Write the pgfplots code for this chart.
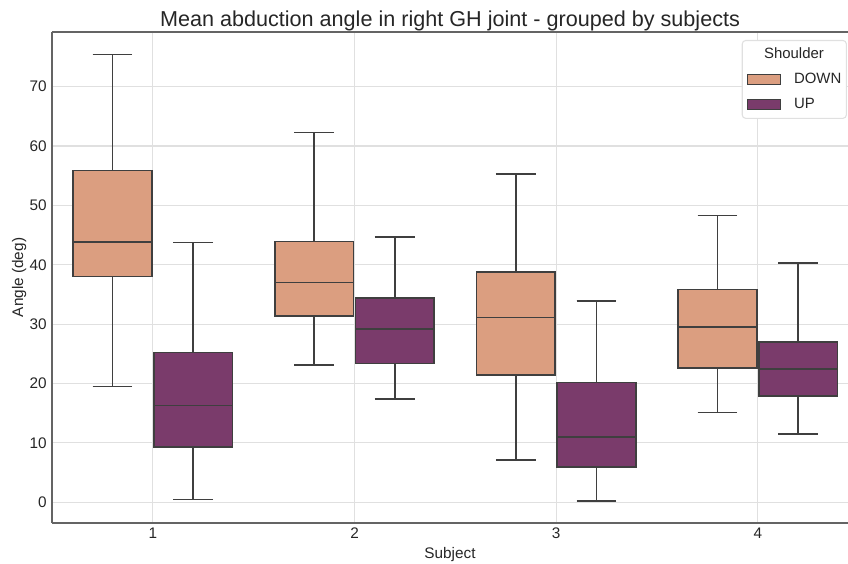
\documentclass[border=0pt]{standalone}
\usepackage{fontspec}
\setmainfont{Liberation Sans}
\usepackage{pgfplots}
\pgfplotsset{compat=1.18}
\usepgfplotslibrary{statistics}
\definecolor{downc}{RGB}{219,158,128}
\definecolor{upc}{RGB}{122,59,107}
\definecolor{edgec}{RGB}{63,63,63}
\definecolor{gridc}{RGB}{224,224,224}
\definecolor{framec}{RGB}{100,100,100}
\definecolor{textc}{RGB}{38,38,38}
\begin{document}
\begin{tikzpicture}[x=0.75pt,y=0.75pt]
\begin{axis}[
  scale only axis,
  width=597pt, height=368.25pt,
  xmin=0.5, xmax=4.447,
  ymin=-3.5, ymax=79.2,
  xtick={1,2,3,4},
  ytick={0,10,20,30,40,50,60,70},
  /pgf/number format/assume math mode=true,
  tick style={draw=none},
  grid=major,
  major grid style={gridc, line width=0.8pt},
  axis x line*=box, axis y line*=left,
  axis line style={framec, line width=1pt, -},
  tick label style={font=\fontsize{11.5}{13}\selectfont, text=textc},
  yticklabel style={anchor=east, inner sep=0pt, xshift=-3.75pt},
  xticklabel style={anchor=north, inner sep=0pt, yshift=-3.75pt},
  xlabel={Subject}, ylabel={Angle (deg)},
  label style={font=\fontsize{11.5}{13}\selectfont, text=textc},
  xlabel style={at={(axis description cs:0.5,-0.0713)}, anchor=base, inner sep=0pt},
  ylabel style={at={(axis description cs:-0.0364,0.5)}, anchor=base, inner sep=0pt},
  title={Mean abduction angle in right GH joint - grouped by subjects},
  title style={at={(axis description cs:0.5,0.9945)}, anchor=base, inner sep=0pt, yshift=0pt,
    font=\fontsize{16.2}{18}\selectfont, text=textc},
  boxplot/draw direction=y,
  legend style={at={(axis description cs:0.8665,0.9837)}, anchor=north west,
    draw=gridc, line width=0.8pt, rounded corners=2.5pt,
    inner xsep=3.75pt, inner ysep=5.6pt,
    font=\fontsize{11.2}{13}\selectfont, text=textc,
    nodes={inner sep=0pt}, row sep=9.5pt,
    /tikz/column 1/.style={column sep=9.75pt},
    cells={anchor=west}},
  legend cell align=left,
  legend image code/.code={\draw[#1] (0pt,-3.75pt) rectangle (24.75pt,3.75pt);},
]
\addlegendimage{empty legend}
\addlegendentry{\hspace{-22.5pt}Shoulder}
\addlegendimage{fill=downc, draw=edgec, line width=0.6pt, rounded corners=0pt}
\addlegendentry{DOWN}
\addlegendimage{fill=upc, draw=edgec, line width=0.6pt, rounded corners=0pt}
\addlegendentry{UP}

\pgfplotsset{mybox/.style={draw=edgec, line width=1.1pt, mark=none, forget plot,
  boxplot/box extend=0.39, boxplot/whisker extend=0.198}}

% Subject 1
\addplot[mybox, fill=downc, boxplot prepared={draw position=0.8,
  lower whisker=19.5, lower quartile=38.0, median=43.8, upper quartile=55.9, upper whisker=75.4}] coordinates {};
\addplot[mybox, fill=upc, boxplot prepared={draw position=1.2,
  lower whisker=0.5, lower quartile=9.3, median=16.3, upper quartile=25.2, upper whisker=43.7}] coordinates {};
% Subject 2
\addplot[mybox, fill=downc, boxplot prepared={draw position=1.8,
  lower whisker=23.1, lower quartile=31.4, median=37.0, upper quartile=43.9, upper whisker=62.3}] coordinates {};
\addplot[mybox, fill=upc, boxplot prepared={draw position=2.2,
  lower whisker=17.4, lower quartile=23.4, median=29.2, upper quartile=34.4, upper whisker=44.7}] coordinates {};
% Subject 3
\addplot[mybox, fill=downc, boxplot prepared={draw position=2.8,
  lower whisker=7.1, lower quartile=21.4, median=31.1, upper quartile=38.8, upper whisker=55.3}] coordinates {};
\addplot[mybox, fill=upc, boxplot prepared={draw position=3.2,
  lower whisker=0.2, lower quartile=5.9, median=11.0, upper quartile=20.2, upper whisker=33.9}] coordinates {};
% Subject 4
\addplot[mybox, fill=downc, boxplot prepared={draw position=3.8,
  lower whisker=15.1, lower quartile=22.6, median=29.5, upper quartile=35.8, upper whisker=48.3}] coordinates {};
\addplot[mybox, fill=upc, boxplot prepared={draw position=4.2,
  lower whisker=11.5, lower quartile=17.9, median=22.4, upper quartile=27.0, upper whisker=40.3}] coordinates {};
\end{axis}
\pgfresetboundingbox
\path[use as bounding box] ([shift={(-52,-40)}]current axis.south west) rectangle ([shift={(0,32)}]current axis.north east);
\end{tikzpicture}
\end{document}
